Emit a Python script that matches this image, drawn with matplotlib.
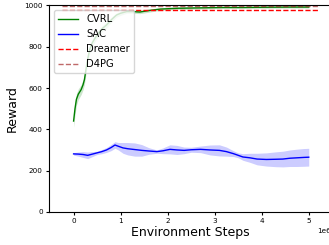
import matplotlib
matplotlib.use("Agg")
import matplotlib.pyplot as plt
import numpy as np

# Data (x in millions of environment steps)
cvrl_x = [0, 0.03, 0.06, 0.1, 0.16, 0.2, 0.23, 0.27, 0.3, 0.34, 0.4, 0.48, 0.55, 0.62, 0.7,
          0.8, 0.91, 1.0, 1.13, 1.25, 1.41, 1.6, 1.84, 2.2, 2.69, 3.18, 3.6, 4.0, 4.6, 5.0]
cvrl_y = [440, 500, 545, 570, 592, 615, 640, 700, 740, 785, 820, 850, 872, 890, 905,
          930, 953, 962, 970, 970, 968, 975, 982, 986, 988, 990, 990, 991, 992, 992]
cvrl_err = [30, 30, 28, 26, 24, 24, 22, 22, 22, 20, 18, 16, 16, 14, 14,
            12, 10, 10, 8, 8, 8, 8, 6, 6, 6, 5, 5, 5, 5, 5]

sac_x = [0, 0.1, 0.2, 0.3, 0.4, 0.5, 0.6, 0.7, 0.8, 0.88, 0.95, 1.05, 1.15, 1.3, 1.45, 1.6,
         1.77, 1.9, 2.05, 2.2, 2.35, 2.5, 2.7, 2.9, 3.1, 3.25, 3.4, 3.5, 3.6, 3.75, 3.9,
         4.1, 4.3, 4.45, 4.6, 4.75, 4.9, 5.0]
sac_y = [281, 280, 278, 274, 280, 286, 292, 300, 312, 324, 318, 310, 306, 302, 298, 295,
         292, 296, 303, 300, 298, 301, 303, 300, 298, 292, 282, 274, 266, 262, 256,
         254, 255, 256, 260, 262, 264, 265]
sac_err = [6, 10, 14, 16, 12, 8, 10, 12, 15, 16, 18, 26, 30, 32, 28, 16,
           8, 14, 22, 22, 16, 12, 16, 24, 27, 22, 14, 12, 16, 22, 28,
           32, 36, 38, 40, 42, 43, 43]

dreamer_val = 980
d4pg_val = 995
baseline_span = [-0.25, 5.2]

scale = 1e6
fig = plt.figure(figsize=(3.29, 2.45), dpi=100)
ax = fig.add_axes([0.149, 0.135, 0.857, 0.843])

cx = np.array(cvrl_x) * scale
cy = np.array(cvrl_y)
ce = np.array(cvrl_err)
sx = np.array(sac_x) * scale
sy = np.array(sac_y)
se = np.array(sac_err)

ax.plot(cx, cy, color='green', lw=1.0, label='CVRL')
ax.fill_between(cx, cy - ce, cy + ce, color='green', alpha=0.2, lw=0)
ax.plot(sx, sy, color='blue', lw=1.0, label='SAC')
ax.fill_between(sx, sy - se, sy + se, color='blue', alpha=0.2, lw=0)
bx = [baseline_span[0] * scale, baseline_span[1] * scale]
ax.plot(bx, [dreamer_val, dreamer_val], color='red', ls='--', lw=1.0, label='Dreamer')
ax.plot(bx, [d4pg_val, d4pg_val], color='brown', alpha=0.7, ls='--', lw=1.0, label='D4PG')

ax.set_ylim(0, 1000)
ax.set_xlabel('Environment Steps', fontsize=9, labelpad=1)
ax.set_ylabel('Reward', fontsize=9)
ax.tick_params(labelsize=5.2, length=2.5, pad=2)
ax.xaxis.get_offset_text().set_fontsize(5.2)
ax.legend(loc='upper left', fontsize=7.2, handlelength=2.0, framealpha=0.8)

fig.savefig('out.png', dpi=100)
